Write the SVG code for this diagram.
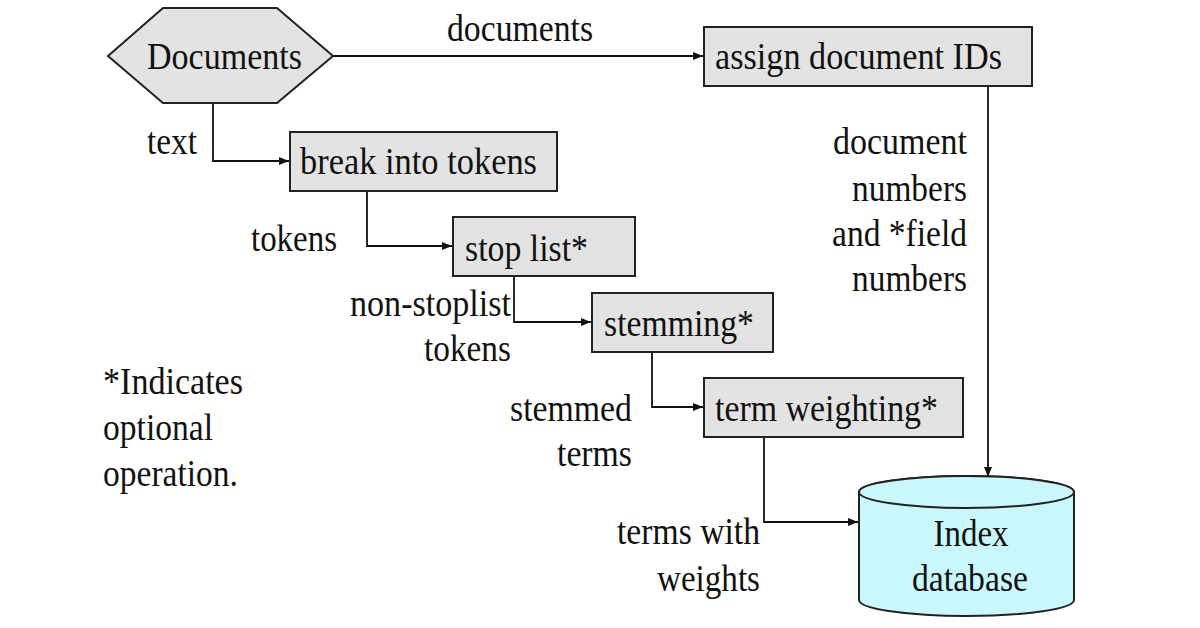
<svg xmlns="http://www.w3.org/2000/svg" width="1200" height="628" viewBox="0 0 1200 628">
<style>
text{font-family:"Liberation Serif","Times New Roman",serif;font-size:38px;fill:#111;}
.box{fill:#e3e3e3;stroke:#222;stroke-width:2;}
.conn{fill:none;stroke:#111;stroke-width:1.8;}
.db{fill:#c9f7fb;stroke:#222;stroke-width:2;}
.end{text-anchor:end;}
.mid{text-anchor:middle;}
</style>
<defs>
<marker id="arr" markerUnits="userSpaceOnUse" markerWidth="11" markerHeight="9" refX="10" refY="4" orient="auto">
<path d="M0,0 L10,4 L0,8 z" fill="#111"/>
</marker>
</defs>
<rect width="1200" height="628" fill="#fff"/>
<g id="connectors">
<path class="conn" d="M333,56 H703" marker-end="url(#arr)"/>
<path class="conn" d="M213,103 V161 H289" marker-end="url(#arr)"/>
<path class="conn" d="M367,191 V246 H452" marker-end="url(#arr)"/>
<path class="conn" d="M514,276 V322 H591" marker-end="url(#arr)"/>
<path class="conn" d="M652,352 V407 H703" marker-end="url(#arr)"/>
<path class="conn" d="M764,437 V522 H858" marker-end="url(#arr)"/>
<path class="conn" d="M988,86 V477" marker-end="url(#arr)"/>
</g>
<g id="labels">
<text x="447" y="41" textLength="146" lengthAdjust="spacingAndGlyphs">documents</text>
<text x="147" y="154" textLength="50" lengthAdjust="spacingAndGlyphs">text</text>
<text x="251" y="251" textLength="86" lengthAdjust="spacingAndGlyphs">tokens</text>
<text x="511" y="316" class="end" textLength="161" lengthAdjust="spacingAndGlyphs">non-stoplist</text>
<text x="511" y="361" class="end" textLength="87" lengthAdjust="spacingAndGlyphs">tokens</text>
<text x="632" y="421" class="end" textLength="122" lengthAdjust="spacingAndGlyphs">stemmed</text>
<text x="632" y="466" class="end" textLength="75" lengthAdjust="spacingAndGlyphs">terms</text>
<text x="760" y="544" class="end" textLength="143" lengthAdjust="spacingAndGlyphs">terms with</text>
<text x="760" y="591" class="end" textLength="103" lengthAdjust="spacingAndGlyphs">weights</text>
<text x="967" y="154" class="end" textLength="134" lengthAdjust="spacingAndGlyphs">document</text>
<text x="967" y="201" class="end" textLength="115" lengthAdjust="spacingAndGlyphs">numbers</text>
<text x="967" y="246" class="end" textLength="135" lengthAdjust="spacingAndGlyphs">and *field</text>
<text x="967" y="291" class="end" textLength="115" lengthAdjust="spacingAndGlyphs">numbers</text>
</g>
<g id="note">
<text x="103" y="394" textLength="140" lengthAdjust="spacingAndGlyphs">*Indicates</text>
<text x="103" y="440" textLength="110" lengthAdjust="spacingAndGlyphs">optional</text>
<text x="103" y="486" textLength="135" lengthAdjust="spacingAndGlyphs">operation.</text>
</g>
<g id="documents">
<polygon class="box" points="108,56 163,8 277,8 333,56 277,103 163,103"/>
<text x="147" y="69" textLength="155" lengthAdjust="spacingAndGlyphs">Documents</text>
</g>
<g id="assign-ids">
<rect class="box" x="704" y="27" width="328" height="59"/>
<text x="715" y="69" textLength="287" lengthAdjust="spacingAndGlyphs">assign document IDs</text>
</g>
<g id="break-tokens">
<rect class="box" x="290" y="132" width="267" height="59"/>
<text x="300" y="174" textLength="237" lengthAdjust="spacingAndGlyphs">break into tokens</text>
</g>
<g id="stop-list">
<rect class="box" x="453" y="217" width="182" height="59"/>
<text x="465" y="261" textLength="123" lengthAdjust="spacingAndGlyphs">stop list*</text>
</g>
<g id="stemming">
<rect class="box" x="592" y="293" width="181" height="59"/>
<text x="604" y="336" textLength="150" lengthAdjust="spacingAndGlyphs">stemming*</text>
</g>
<g id="term-weighting">
<rect class="box" x="704" y="378" width="259" height="59"/>
<text x="715" y="421" textLength="223" lengthAdjust="spacingAndGlyphs">term weighting*</text>
</g>
<g id="index-db">
<path class="db" d="M859,492 A107.5,16 0 0,1 1074,492 L1074,600 A107.5,16 0 0,1 859,600 Z"/>
<ellipse class="db" cx="966.5" cy="492" rx="107.5" ry="16"/>
<text x="971" y="546" class="mid" textLength="75" lengthAdjust="spacingAndGlyphs">Index</text>
<text x="970" y="591" class="mid" textLength="116" lengthAdjust="spacingAndGlyphs">database</text>
</g>
</svg>
